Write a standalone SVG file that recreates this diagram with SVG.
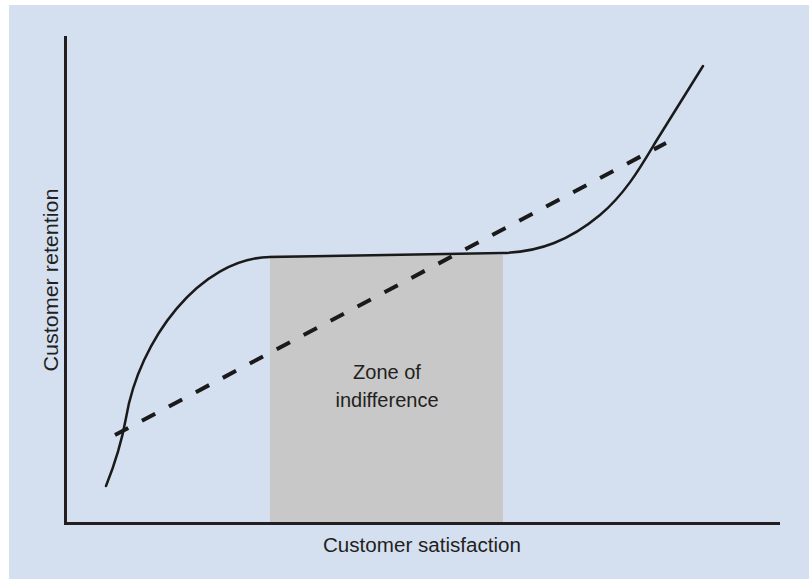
<svg xmlns="http://www.w3.org/2000/svg" width="809" height="579" viewBox="0 0 809 579">
<style>
.lbl{font-family:"Liberation Sans",Arial,sans-serif;fill:#231f20;}
.axis{stroke:#231f20;stroke-width:3;fill:none;}
.curve{stroke:#1a1a1a;stroke-width:2.5;fill:none;stroke-linecap:round;stroke-linejoin:round;}
.dash{stroke:#1a1a1a;stroke-width:4;fill:none;stroke-dasharray:15 15.5;}
</style>
<rect x="0" y="0" width="809" height="579" fill="#ffffff"/>
<rect x="9" y="5" width="800" height="574" fill="#d4dff0"/>
<g id="zone">
<rect x="270" y="255" width="233" height="268" fill="#c8c8c8"/>
<text class="lbl" x="387" y="379" font-size="20" text-anchor="middle">Zone of</text>
<text class="lbl" x="387" y="407" font-size="20" text-anchor="middle">indifference</text>
</g>
<g id="axes">
<path class="axis" d="M65.5,36 V523.5 H780"/>
<text class="lbl" x="422" y="552" font-size="20" text-anchor="middle" textLength="198" lengthAdjust="spacingAndGlyphs">Customer satisfaction</text>
<text class="lbl" transform="translate(58,280) rotate(-90)" x="0" y="0" font-size="20" text-anchor="middle" textLength="183" lengthAdjust="spacingAndGlyphs">Customer retention</text>
</g>
<g id="connectors">
<path class="dash" d="M115,435 L666,143"/>
<path class="curve" d="M106,486 C114,466 121,446 126,418 C139,340 200,258 270,257 L503,253 C540,252 570,240 600,215 C625,194 640,168 655,143 L703,66"/>
</g>
</svg>
